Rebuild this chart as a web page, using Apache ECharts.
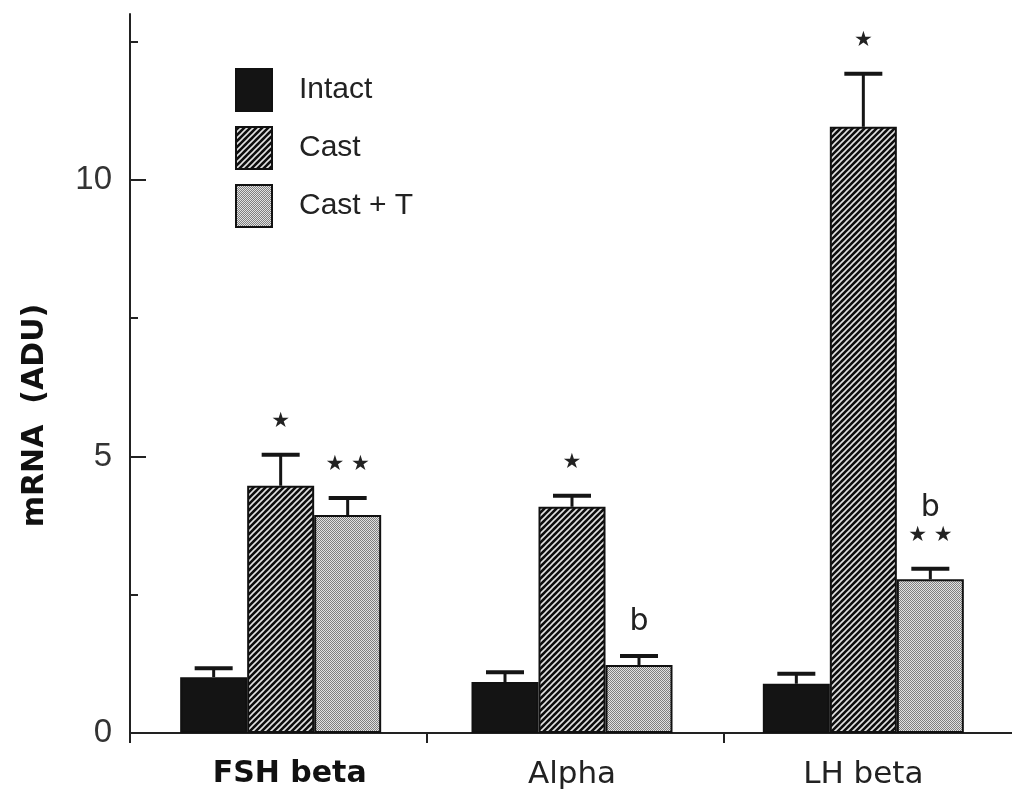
<!DOCTYPE html>
<html>
<head>
<meta charset="utf-8">
<script src="https://cdn.jsdelivr.net/npm/echarts@6/dist/echarts.min.js"></script>
<style>
html,body{margin:0;padding:0;background:#fff;}
#chart{width:1012px;height:806px;}
</style>
</head>
<body>
<div id="chart"></div>
<script>
// ---- data ----
const categories = ['FSH beta', 'Alpha', 'LH beta'];
const seriesNames = ['Intact', 'Cast', 'Cast + T'];
const intactValues = [1.01, 0.92, 0.89];
const intactErrors = [0.16, 0.18, 0.18];
const castValues = [4.47, 4.09, 10.96];
const castErrors = [0.56, 0.20, 0.96];
const castTValues = [3.94, 1.23, 2.78];
const castTErrors = [0.31, 0.16, 0.19];
const intactNotes = ['', '', ''];
const castNotes = ['★', '★', '★'];
const castTNotes = [['★ ★'], ['b'], ['★ ★', 'b']];
const yMajorTicks = [0, 5, 10];
const yMinorTicks = [2.5, 7.5, 12.5];

// ---- patterns ----
function hatchPattern() {
  const c = document.createElement('canvas');
  c.width = 6; c.height = 6;
  const g = c.getContext('2d');
  g.fillStyle = '#0e0e0e';
  g.fillRect(0, 0, 6, 6);
  g.strokeStyle = '#e2e2e2';
  g.lineWidth = 1.6;
  g.beginPath();
  g.moveTo(-1, 1); g.lineTo(1, -1);
  g.moveTo(0, 6); g.lineTo(6, 0);
  g.moveTo(5, 7); g.lineTo(7, 5);
  g.stroke();
  return c;
}
function stipplePattern() {
  const c = document.createElement('canvas');
  c.width = 2; c.height = 2;
  const g = c.getContext('2d');
  g.fillStyle = '#e2e2e2';
  g.fillRect(0, 0, 2, 2);
  g.fillStyle = '#808080';
  g.fillRect(0, 0, 1, 1);
  g.fillRect(1, 1, 1, 1);
  return c;
}

const BAR_W = 67;
const fills = [
  '#141414',
  { image: hatchPattern(), repeat: 'repeat' },
  { image: stipplePattern(), repeat: 'repeat' }
];
const valuesList = [intactValues, castValues, castTValues];
const errorsList = [intactErrors, castErrors, castTErrors];
const notesList = [intactNotes, castNotes, castTNotes];

const chart = echarts.init(document.getElementById('chart'), null, { renderer: 'canvas' });

const barSeries = seriesNames.map((name, i) => ({
  name: name,
  type: 'bar',
  xAxisIndex: 1,
  yAxisIndex: 2,
  barWidth: BAR_W,
  barGap: '0%',
  data: valuesList[i],
  itemStyle: { color: fills[i], borderColor: '#111', borderWidth: 2 },
  emphasis: { disabled: true },
  z: 2
}));

const errSeries = seriesNames.map((name, i) => ({
  type: 'custom',
  xAxisIndex: 1,
  yAxisIndex: 2,
  z: 3,
  silent: true,
  data: valuesList[i].map((v, k) => [k, v, errorsList[i][k]]),
  renderItem: function (params, api) {
    const k = api.value(0);
    const v = api.value(1);
    const e = api.value(2);
    const base = api.coord([k, v]);
    const topP = api.coord([k, v + e]);
    const x = base[0] + (i - 1) * BAR_W;
    const y0 = base[1];
    const y1 = topP[1];
    const children = [
      { type: 'line', shape: { x1: x, y1: y0, x2: x, y2: y1 }, style: { stroke: '#151515', lineWidth: 3 } },
      { type: 'line', shape: { x1: x - 19, y1: y1, x2: x + 19, y2: y1 }, style: { stroke: '#151515', lineWidth: 4 } }
    ];
    let notes = notesList[i][k];
    if (typeof notes === 'string') notes = notes ? [notes] : [];
    notes.forEach((t, j) => {
      const isStar = t.indexOf('★') >= 0;
      children.push({
        type: 'text',
        style: {
          text: t,
          x: x,
          y: y1 - (isStar ? 33 : 34) - j * 27,
          align: 'center',
          verticalAlign: 'middle',
          font: isStar ? '21px "DejaVu Sans"' : '30px "DejaVu Sans"',
          fill: '#222'
        }
      });
    });
    return { type: 'group', children: children };
  }
}));

const option = {
  animation: false,
  backgroundColor: '#fff',
  grid: [
    { left: 130, top: 14, bottom: 73, width: 891, outerBoundsMode: 'none', containLabel: false },
    { left: 135, top: 14, bottom: 73, width: 874, outerBoundsMode: 'none', containLabel: false }
  ],
  legend: {
    orient: 'vertical',
    left: 235,
    top: 68,
    itemWidth: 36,
    itemHeight: 42,
    itemGap: 14,
    padding: 0,
    selectedMode: false,
    icon: 'rect',
    data: seriesNames,
    textStyle: {
      fontFamily: 'Liberation Sans',
      fontSize: 30,
      color: '#222',
      padding: [0, 0, 0, 22]
    }
  },
  xAxis: [
    {
      type: 'category',
      gridIndex: 0,
      data: categories,
      boundaryGap: true,
      axisLine: { show: true, lineStyle: { color: '#222', width: 2 } },
      axisTick: { show: true, length: 10, lineStyle: { color: '#222', width: 2 } },
      axisLabel: { show: false },
      splitLine: { show: false }
    },
    {
      type: 'category',
      gridIndex: 1,
      data: categories,
      axisLine: { show: false },
      axisTick: { show: false },
      splitLine: { show: false },
      axisLabel: {
        margin: 26,
        fontFamily: 'DejaVu Sans',
        fontSize: 31,
        color: '#222',
        formatter: function (v, idx) {
          return idx === 0 ? '{b|' + v + '}' : v;
        },
        rich: {
          b: { fontFamily: 'DejaVu Sans', fontWeight: 'bold', fontSize: 30, color: '#111', padding: [0, 0, 0, 18] }
        }
      }
    }
  ],
  yAxis: [
    {
      type: 'value',
      gridIndex: 0,
      position: 'left',
      min: 0,
      max: 13,
      interval: 2.5,
      splitLine: { show: false },
      axisLine: { show: true, lineStyle: { color: '#222', width: 2 } },
      axisTick: { show: true, inside: true, length: 16, customValues: yMajorTicks, lineStyle: { color: '#222', width: 2 } },
      axisLabel: { customValues: yMajorTicks, margin: 18, fontFamily: 'Liberation Sans', fontSize: 33, color: '#333' },
      name: 'mRNA  (ADU)',
      nameLocation: 'middle',
      nameGap: 80,
      nameTextStyle: { fontFamily: 'DejaVu Sans', fontWeight: 'bold', fontSize: 30, color: '#111', padding: [0, 84, 0, 0] }
    },
    {
      type: 'value',
      gridIndex: 0,
      position: 'left',
      offset: 0,
      min: 0,
      max: 13,
      interval: 2.5,
      splitLine: { show: false },
      axisLine: { show: false },
      axisTick: { show: true, inside: true, length: 8, customValues: yMinorTicks, lineStyle: { color: '#222', width: 2 } },
      axisLabel: { show: false }
    },
    {
      type: 'value',
      gridIndex: 1,
      min: 0,
      max: 13,
      show: false
    }
  ],
  series: barSeries.concat(errSeries)
};
chart.setOption(option);
</script>
</body>
</html>
